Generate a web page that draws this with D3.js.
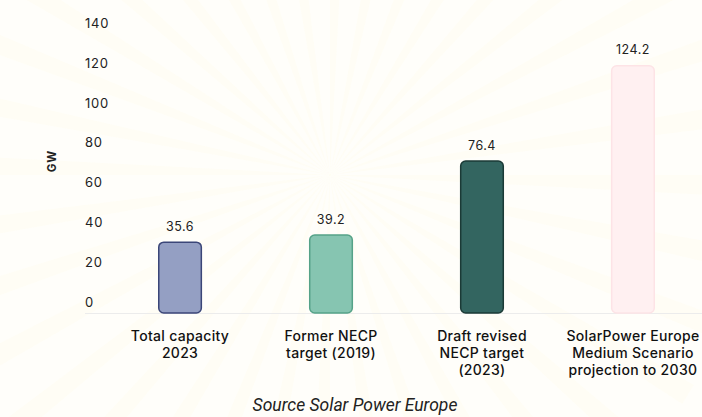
<!DOCTYPE html>
<html>
<head>
<meta charset="utf-8">
<script src="https://cdn.jsdelivr.net/npm/d3@7"></script>
<style>
  body { margin: 0; background: #fffefa; }
  svg { display: block; font-family: Inter, "DejaVu Sans", sans-serif; }
</style>
</head>
<body>
<div id="chart"></div>
<script>
  var categories = [
    ['Total capacity', '2023'],
    ['Former NECP', 'target (2019)'],
    ['Draft revised', 'NECP target', '(2023)'],
    ['SolarPower Europe', 'Medium Scenario', 'projection to 2030']
  ];
  var values = [35.6, 39.2, 76.4, 124.2];
  var valueLabels = ['35.6', '39.2', '76.4', '124.2'];
  var yTicks = [0, 20, 40, 60, 80, 100, 120, 140];
  var fills = ['#949fc3', '#86c5b1', '#336560', '#fff0f1'];
  var strokes = ['#3b4678', '#55a288', '#1b3a36', '#fde3e6'];

  var width = 702, height = 417;
  var baseY = 313;

  var svg = d3.select('#chart').append('svg')
    .attr('width', width)
    .attr('height', height);

  svg.append('rect')
    .attr('width', width).attr('height', height)
    .attr('fill', '#fffefa');

  // very faint sunburst in the background
  var rays = svg.append('g').attr('transform', 'translate(330,175)');
  d3.range(0, 36).forEach(function(i) {
    var a0 = i * Math.PI * 2 / 36, a1 = a0 + Math.PI / 60;
    var r = 420;
    rays.append('path')
      .attr('d', 'M0,0L' + r * Math.cos(a0) + ',' + r * Math.sin(a0) +
        'L' + r * Math.cos(a1) + ',' + r * Math.sin(a1) + 'Z')
      .attr('fill', '#fffbea')
      .attr('opacity', 0.35);
  });

  var x = d3.scaleBand()
    .domain(d3.range(categories.length))
    .range([158, 655])
    .paddingInner(0.708)
    .paddingOuter(0);

  var y = d3.scaleLinear()
    .domain([0, 140])
    .range([baseY, baseY - 140 * 1.99]);

  // y axis labels (sit a little above their value, as in the source)
  var yAxis = svg.append('g')
    .attr('transform', 'translate(85,-11)')
    .call(d3.axisLeft(y).tickValues(yTicks).tickSize(0).tickPadding(0));
  yAxis.select('.domain').remove();
  yAxis.selectAll('text')
    .attr('text-anchor', 'start')
    .attr('x', 0)
    .attr('fill', '#222')
    .style('font-size', '13px')
    .style('letter-spacing', '0.8px')
    .style('font-family', 'Inter, sans-serif');

  svg.append('text')
    .attr('transform', 'translate(56,161) rotate(-90)')
    .attr('text-anchor', 'middle')
    .attr('fill', '#222')
    .style('font-size', '11.5px')
    .style('letter-spacing', '1px')
    .style('font-weight', 'bold')
    .text('GW');

  // baseline
  svg.append('line')
    .attr('x1', 85).attr('x2', width)
    .attr('y1', baseY + 0.5).attr('y2', baseY + 0.5)
    .attr('stroke', '#ececec');

  svg.selectAll('rect.bar')
    .data(values)
    .enter()
    .append('rect')
    .attr('class', 'bar')
    .attr('x', function(d, i) { return x(i) + 0.75; })
    .attr('y', function(d) { return y(d); })
    .attr('width', x.bandwidth() - 1.5)
    .attr('height', function(d) { return baseY - y(d); })
    .attr('rx', 5)
    .attr('fill', function(d, i) { return fills[i]; })
    .attr('stroke', function(d, i) { return strokes[i]; })
    .attr('stroke-width', 1.5);

  svg.selectAll('text.val')
    .data(values)
    .enter()
    .append('text')
    .attr('class', 'val')
    .attr('x', function(d, i) { return x(i) + x.bandwidth() / 2; })
    .attr('y', function(d, i) { return y(d) - (i == 3 ? 12 : 11); })
    .attr('text-anchor', 'middle')
    .attr('fill', '#222')
    .style('font-size', '12.5px')
    .style('letter-spacing', '0.5px')
    .text(function(d, i) { return valueLabels[i]; });

  // category labels, one text per line
  categories.forEach(function(lines, i) {
    svg.selectAll(null)
      .data(lines)
      .enter()
      .append('text')
      .attr('class', 'cat')
      .attr('x', x(i) + x.bandwidth() / 2)
      .attr('y', function(l, j) { return 341 + j * 17; })
      .attr('text-anchor', 'middle')
      .attr('fill', '#111')
      .style('font-size', '14px')
      .style('letter-spacing', '0.3px')
      .style('font-weight', 500)
      .text(function(l) { return l; });
  });

  svg.append('text')
    .attr('x', 355)
    .attr('y', 411)
    .attr('text-anchor', 'middle')
    .attr('fill', '#222')
    .style('font-family', 'Roboto, sans-serif')
    .style('font-style', 'italic')
    .style('font-size', '17.5px')
    .text('Source Solar Power Europe');
</script>
</body>
</html>
